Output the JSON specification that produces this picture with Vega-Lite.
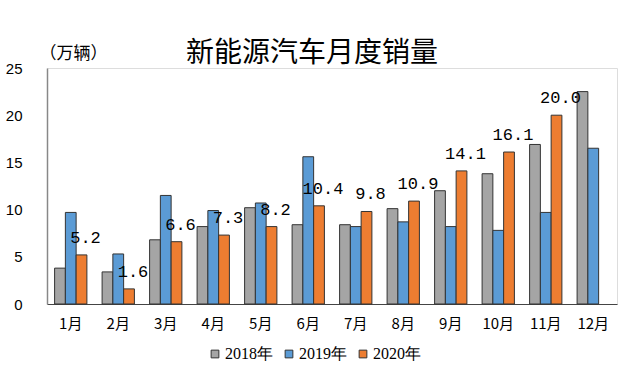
{
  "$schema": "https://vega.github.io/schema/vega-lite/v6.json",
  "width": 570,
  "height": 236,
  "autosize": {"type": "none"},
  "padding": {"left": 47, "top": 68, "right": 23, "bottom": 70},
  "background": "white",
  "title": {
    "text": "新能源汽车月度销量",
    "font": "Noto Sans CJK SC",
    "fontSize": 28,
    "fontWeight": "normal",
    "color": "#000000",
    "anchor": "middle",
    "dx": -20,
    "offset": -24
  },
  "data": {
    "values": [
      {"month": "1月", "year": "2018年", "sales": 3.8},
      {"month": "1月", "year": "2019年", "sales": 9.7},
      {"month": "1月", "year": "2020年", "sales": 5.2},
      {"month": "2月", "year": "2018年", "sales": 3.4},
      {"month": "2月", "year": "2019年", "sales": 5.3},
      {"month": "2月", "year": "2020年", "sales": 1.6},
      {"month": "3月", "year": "2018年", "sales": 6.8},
      {"month": "3月", "year": "2019年", "sales": 11.5},
      {"month": "3月", "year": "2020年", "sales": 6.6},
      {"month": "4月", "year": "2018年", "sales": 8.2},
      {"month": "4月", "year": "2019年", "sales": 9.9},
      {"month": "4月", "year": "2020年", "sales": 7.3},
      {"month": "5月", "year": "2018年", "sales": 10.2},
      {"month": "5月", "year": "2019年", "sales": 10.7},
      {"month": "5月", "year": "2020年", "sales": 8.2},
      {"month": "6月", "year": "2018年", "sales": 8.4},
      {"month": "6月", "year": "2019年", "sales": 15.6},
      {"month": "6月", "year": "2020年", "sales": 10.4},
      {"month": "7月", "year": "2018年", "sales": 8.4},
      {"month": "7月", "year": "2019年", "sales": 8.2},
      {"month": "7月", "year": "2020年", "sales": 9.8},
      {"month": "8月", "year": "2018年", "sales": 10.1},
      {"month": "8月", "year": "2019年", "sales": 8.7},
      {"month": "8月", "year": "2020年", "sales": 10.9},
      {"month": "9月", "year": "2018年", "sales": 12.0},
      {"month": "9月", "year": "2019年", "sales": 8.2},
      {"month": "9月", "year": "2020年", "sales": 14.1},
      {"month": "10月", "year": "2018年", "sales": 13.8},
      {"month": "10月", "year": "2019年", "sales": 7.8},
      {"month": "10月", "year": "2020年", "sales": 16.1},
      {"month": "11月", "year": "2018年", "sales": 16.9},
      {"month": "11月", "year": "2019年", "sales": 9.7},
      {"month": "11月", "year": "2020年", "sales": 20.0},
      {"month": "12月", "year": "2018年", "sales": 22.5},
      {"month": "12月", "year": "2019年", "sales": 16.5}
    ]
  },
  "encoding": {
    "x": {
      "field": "month",
      "type": "nominal",
      "sort": null,
      "scale": {"paddingInner": 0.32, "paddingOuter": 0.16},
      "axis": {
        "title": null,
        "labelAngle": 0,
        "ticks": false,
        "labelPadding": 12,
        "labelFont": "Noto Sans CJK SC",
        "labelFontSize": 15,
        "labelColor": "#000000",
        "domainColor": "#444444",
        "domainWidth": 1.2
      }
    },
    "xOffset": {"field": "year", "type": "nominal", "scale": {"paddingInner": 0, "paddingOuter": 0}},
    "y": {
      "field": "sales",
      "type": "quantitative",
      "scale": {"domain": [0, 25]},
      "axis": {
        "title": "（万辆）",
        "titleAngle": 0,
        "titleAlign": "left",
        "titleBaseline": "middle",
        "titleX": -8,
        "titleY": -15,
        "titleFont": "Noto Sans CJK SC",
        "titleFontSize": 17,
        "titleFontWeight": "normal",
        "titleColor": "#000000",
        "values": [0, 5, 10, 15, 20, 25],
        "grid": false,
        "ticks": false,
        "labelPadding": 25,
        "labelFont": "Liberation Sans",
        "labelFontSize": 15,
        "labelColor": "#000000",
        "domainColor": "#888888",
        "domainWidth": 1.5
      }
    }
  },
  "layer": [
    {
      "mark": {"type": "bar", "stroke": "#333333", "strokeWidth": 1},
      "encoding": {
        "color": {
          "field": "year",
          "type": "nominal",
          "scale": {"domain": ["2018年", "2019年", "2020年"], "range": ["#A5A5A5", "#5B9BD5", "#ED7D31"]},
          "legend": {
            "title": null,
            "orient": "none",
            "direction": "horizontal",
            "legendX": 160,
            "legendY": 278,
            "symbolType": "square",
            "symbolSize": 60,
            "symbolStrokeColor": "#333333",
            "symbolStrokeWidth": 1,
            "labelFont": "Liberation Serif",
            "labelFontSize": 16,
            "labelColor": "#000000",
            "labelOffset": 2,
            "columnPadding": 8
          }
        }
      }
    },
    {
      "transform": [{"filter": "datum.year === '2020年'"}],
      "mark": {
        "type": "text",
        "font": "Liberation Mono",
        "fontSize": 17,
        "baseline": "bottom",
        "align": "center",
        "dx": 4,
        "dy": -8,
        "color": "#000000"
      },
      "encoding": {
        "text": {"field": "sales", "type": "quantitative", "format": ".1f"}
      }
    }
  ]
}
